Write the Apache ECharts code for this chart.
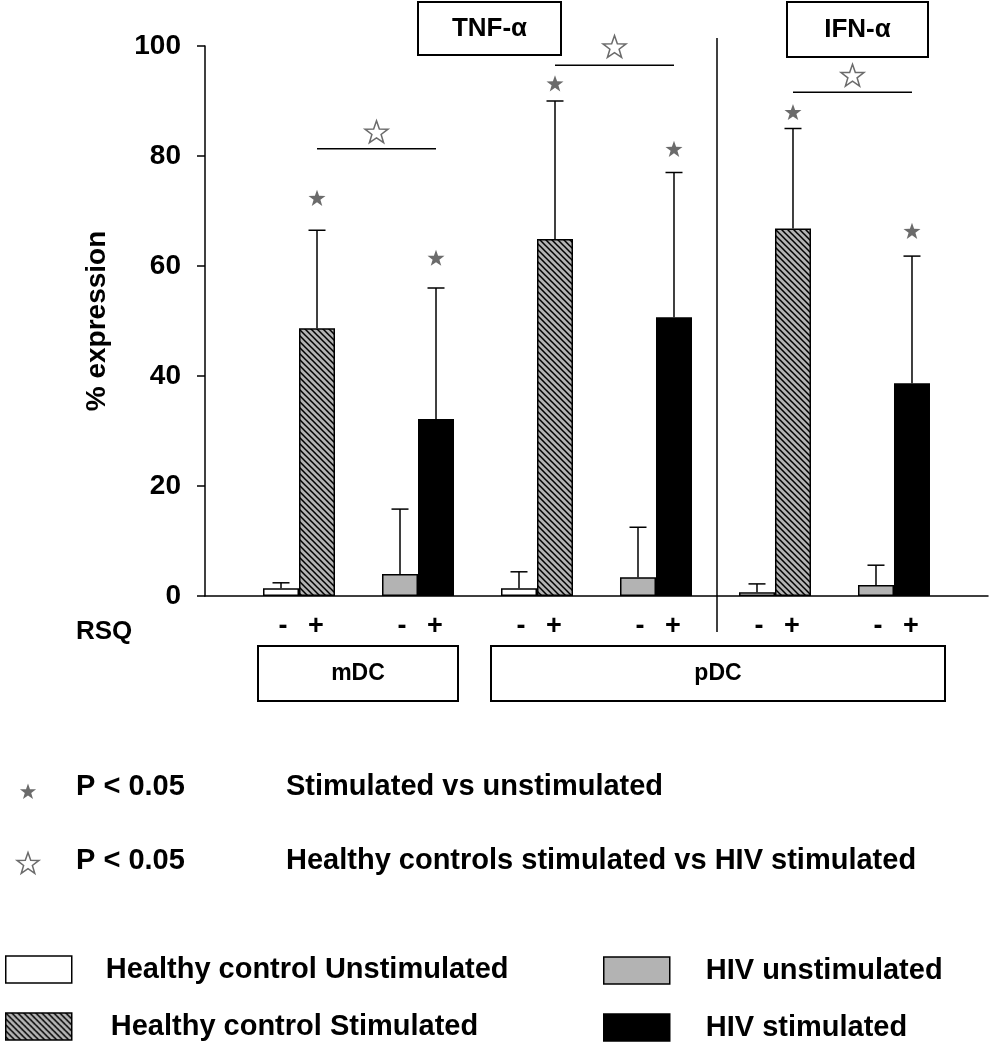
<!DOCTYPE html>
<html><head><meta charset="utf-8">
<script src="https://cdn.jsdelivr.net/npm/echarts@6/dist/echarts.min.js"></script>
<style>html,body{margin:0;padding:0;background:#fff}#c{width:990px;height:1050px}</style>
</head><body><div id="c"></div>
<script>
// ---- data ----
const groups = ['mDC', 'pDC TNF-α', 'pDC IFN-α'];
const yTicks = [0, 20, 40, 60, 80, 100];
const rsqLabels = ['-', '+'];
const hcUnstim = [1.4, 1.4, 0.7];
const hcUnstimErr = [2.4, 4.4, 2.2];      // top of error bar
const hcStim = [48.7, 64.9, 66.8];
const hcStimErr = [66.5, 90.0, 85.0];
const hivUnstim = [4.0, 3.4, 2.0];
const hivUnstimErr = [15.8, 12.5, 5.6];
const hivStim = [32.2, 50.7, 38.7];
const hivStimErr = [56.0, 77.0, 61.8];
const hcStarY = [72.4, 93.2, 88.0];       // filled star (stimulated vs unstimulated)
const hivStarY = [61.5, 81.3, 66.4];
const sigLineY = [81.3, 96.5, 91.6];      // HC stim vs HIV stim bracket
const sigStarY = [84.4, 99.9, 94.7];

const FONT = '"Liberation Sans", Arial, Helvetica, sans-serif';
const STAR_GRAY = '#6b6b6b';
const HALF = 18; // half bar width in px

function starPts(cx, cy, R) {
  const pts = [];
  for (let i = 0; i < 10; i++) {
    const r = i % 2 === 0 ? R : R * 0.4;
    const a = -Math.PI / 2 + i * Math.PI / 5;
    pts.push([cx + r * Math.cos(a), cy + r * Math.sin(a)]);
  }
  return pts;
}
const STAR = 'path://' + starPts(0, 0, 1).map((p, i) => (i ? 'L' : 'M') + p[0].toFixed(4) + ' ' + p[1].toFixed(4)).join(' ') + ' Z';

function hatch() {
  const s = 6;
  const c = document.createElement('canvas');
  c.width = s; c.height = s;
  const g = c.getContext('2d');
  g.fillStyle = '#b3b3b3';
  g.fillRect(0, 0, s, s);
  g.strokeStyle = '#000';
  g.lineWidth = 1.5;
  g.beginPath();
  g.moveTo(-1, -1); g.lineTo(s + 1, s + 1);
  g.moveTo(-1, s - 1); g.lineTo(1, s + 1);
  g.moveTo(s - 1, -1); g.lineTo(s + 1, 1);
  g.stroke();
  return c;
}
const HATCH = { image: hatch(), repeat: 'repeat' };

const hcX = groups.map((g, i) => 2 * i + 1);
const hivX = groups.map((g, i) => 2 * i + 2);
function seriesData(vals, isHC) {
  const out = [];
  groups.forEach((g, i) => {
    out.push([2 * i + 1, isHC ? vals[i] : '-']);
    out.push([2 * i + 2, isHC ? '-' : vals[i]]);
  });
  return out;
}
const errData = [];
groups.forEach((g, i) => {
  errData.push([hcX[i], hcUnstim[i], hcUnstimErr[i], -1]);
  errData.push([hcX[i], hcStim[i], hcStimErr[i], 1]);
  errData.push([hivX[i], hivUnstim[i], hivUnstimErr[i], -1]);
  errData.push([hivX[i], hivStim[i], hivStimErr[i], 1]);
});
const starData = [];
groups.forEach((g, i) => { starData.push([hcX[i], hcStarY[i]]); starData.push([hivX[i], hivStarY[i]]); });
const sigData = groups.map((g, i) => [hcX[i], hivX[i], sigLineY[i]]);
const sigStarData = groups.map((g, i) => [(hcX[i] + hivX[i]) / 2, sigStarY[i]]);

const barBorder = { borderColor: '#000', borderWidth: 1.5 };

const chart = echarts.init(document.getElementById('c'), null, { renderer: 'canvas' });
const txt = (text, x, y, size, align) => ({
  type: 'text', x: x, y: y, z: 100,
  style: { text: text, fontSize: size, fontWeight: 'bold', fontFamily: FONT, fill: '#000', align: align || 'left', verticalAlign: 'middle' }
});
const box = (x, y, w, h) => ({
  type: 'rect', shape: { x: x, y: y, width: w, height: h }, z: 100,
  style: { fill: '#fff', stroke: '#000', lineWidth: 2 }
});
const legendBase = (name, left, top, pad) => ({
  data: [name], left: left, top: top, padding: 0, orient: 'horizontal',
  itemWidth: 66, itemHeight: 27, selectedMode: false, icon: 'rect',
  itemStyle: { borderColor: '#000', borderWidth: 1.5 },
  textStyle: { fontSize: 29, fontWeight: 'bold', fontFamily: FONT, color: '#000', lineHeight: 28, padding: [0, 0, 0, pad] }
});

chart.setOption({
  animation: false,
  backgroundColor: '#fff',
  grid: { left: 205, right: 2, top: 46, bottom: 454, containLabel: false },
  xAxis: {
    type: 'value', min: 0.21, max: 6.79,
    axisLine: { onZero: true, lineStyle: { color: '#000', width: 1.5 } },
    axisTick: { show: false }, axisLabel: { show: false }, splitLine: { show: false }
  },
  yAxis: {
    type: 'value', min: 0, max: 100, interval: 20,
    axisLine: { show: true, lineStyle: { color: '#000', width: 1.5 } },
    axisTick: { show: true, length: 8, lineStyle: { color: '#000', width: 1.5 }, customValues: yTicks },
    axisLabel: { fontSize: 28, fontWeight: 'bold', color: '#000', fontFamily: FONT, margin: 24, customValues: yTicks },
    splitLine: { show: false },
    name: '% expression', nameLocation: 'middle', nameGap: 94, nameRotate: 90,
    nameTextStyle: { fontSize: 28, fontWeight: 'bold', color: '#000', fontFamily: FONT }
  },
  legend: [
    legendBase('Healthy control Unstimulated', 5, 955, 29),
    legendBase('Healthy control Stimulated', 5, 1012, 34),
    legendBase('HIV unstimulated', 603, 956, 31),
    legendBase('HIV stimulated', 603, 1013, 31)
  ],
  series: [
    { type: 'bar', name: 'Healthy control Unstimulated', stack: 'u', barWidth: 36, barGap: '0%',
      data: seriesData(hcUnstim, true), itemStyle: Object.assign({ color: '#fff' }, barBorder) },
    { type: 'bar', name: 'Healthy control Stimulated', stack: 's', barWidth: 36, barGap: '0%',
      data: seriesData(hcStim, true), itemStyle: Object.assign({ color: HATCH }, barBorder) },
    { type: 'bar', name: 'HIV unstimulated', stack: 'u', barWidth: 36, barGap: '0%',
      data: seriesData(hivUnstim, false), itemStyle: Object.assign({ color: '#b3b3b3' }, barBorder) },
    { type: 'bar', name: 'HIV stimulated', stack: 's', barWidth: 36, barGap: '0%',
      data: seriesData(hivStim, false), itemStyle: Object.assign({ color: '#000' }, barBorder) },
    { type: 'custom', name: 'err', clip: false, z: 3, silent: true,
      data: errData,
      renderItem: function (params, api) {
        const x = api.value(0), v = api.value(1), e = api.value(2), side = api.value(3);
        const b = api.coord([x, v]), t = api.coord([x, e]), z0 = api.coord([x, 0]);
        const cx = b[0] + side * HALF;
        const ls = { stroke: '#000', lineWidth: 1.5 };
        return { type: 'group', children: [
          { type: 'line', shape: { x1: cx, y1: b[1], x2: cx, y2: t[1] }, style: ls },
          { type: 'line', shape: { x1: cx - 8.5, y1: t[1], x2: cx + 8.5, y2: t[1] }, style: ls },
          { type: 'text', x: cx + (side < 0 ? 2 : -1), y: z0[1] + 31,
            style: { text: rsqLabels[side < 0 ? 0 : 1], fontSize: 27, fontWeight: 'bold', fontFamily: FONT, fill: '#000', align: 'center', verticalAlign: 'middle' } }
        ] };
      }
    },
    { type: 'custom', name: 'sig', clip: false, silent: true,
      data: sigData,
      renderItem: function (params, api) {
        const a = api.coord([api.value(0), api.value(2)]), b = api.coord([api.value(1), api.value(2)]);
        return { type: 'line', shape: { x1: a[0] + HALF, y1: a[1], x2: b[0] + HALF, y2: b[1] }, style: { stroke: '#000', lineWidth: 1.5 } };
      }
    },
    { type: 'scatter', name: 'starFilled', silent: true, symbol: STAR, symbolSize: 17, symbolKeepAspect: true,
      symbolOffset: [HALF, 0], data: starData, itemStyle: { color: STAR_GRAY, opacity: 1 } },
    { type: 'scatter', name: 'starOpen', silent: true, symbol: STAR, symbolSize: 23, symbolKeepAspect: true,
      symbolOffset: [HALF, 0], data: sigStarData, itemStyle: { color: '#fff', borderColor: STAR_GRAY, borderWidth: 1.5, opacity: 1 } }
  ],
  graphic: [
    box(418, 2, 143, 53), txt('TNF-α', 489.5, 29, 26, 'center'),
    box(787, 2, 141, 55), txt('IFN-α', 857.5, 30, 26, 'center'),
    { type: 'line', shape: { x1: 717, y1: 38, x2: 717, y2: 632 }, style: { stroke: '#000', lineWidth: 1.5 }, z: 100 },
    txt('RSQ', 76, 632, 26),
    box(258, 646, 200, 55), txt('mDC', 358, 674, 23, 'center'),
    box(491, 646, 454, 55), txt('pDC', 718, 674, 23, 'center'),
    { type: 'polygon', z: 100, shape: { points: starPts(28, 792, 8.5) }, style: { fill: STAR_GRAY } },
    { type: 'polygon', z: 100, shape: { points: starPts(28, 864, 11.5) }, style: { fill: '#fff', stroke: STAR_GRAY, lineWidth: 1.5 } },
    txt('P < 0.05', 76, 787, 29), txt('Stimulated vs unstimulated', 286, 787, 29),
    txt('P < 0.05', 76, 861, 29), txt('Healthy controls stimulated vs HIV stimulated', 286, 861, 29)
  ]
});
</script></body></html>
